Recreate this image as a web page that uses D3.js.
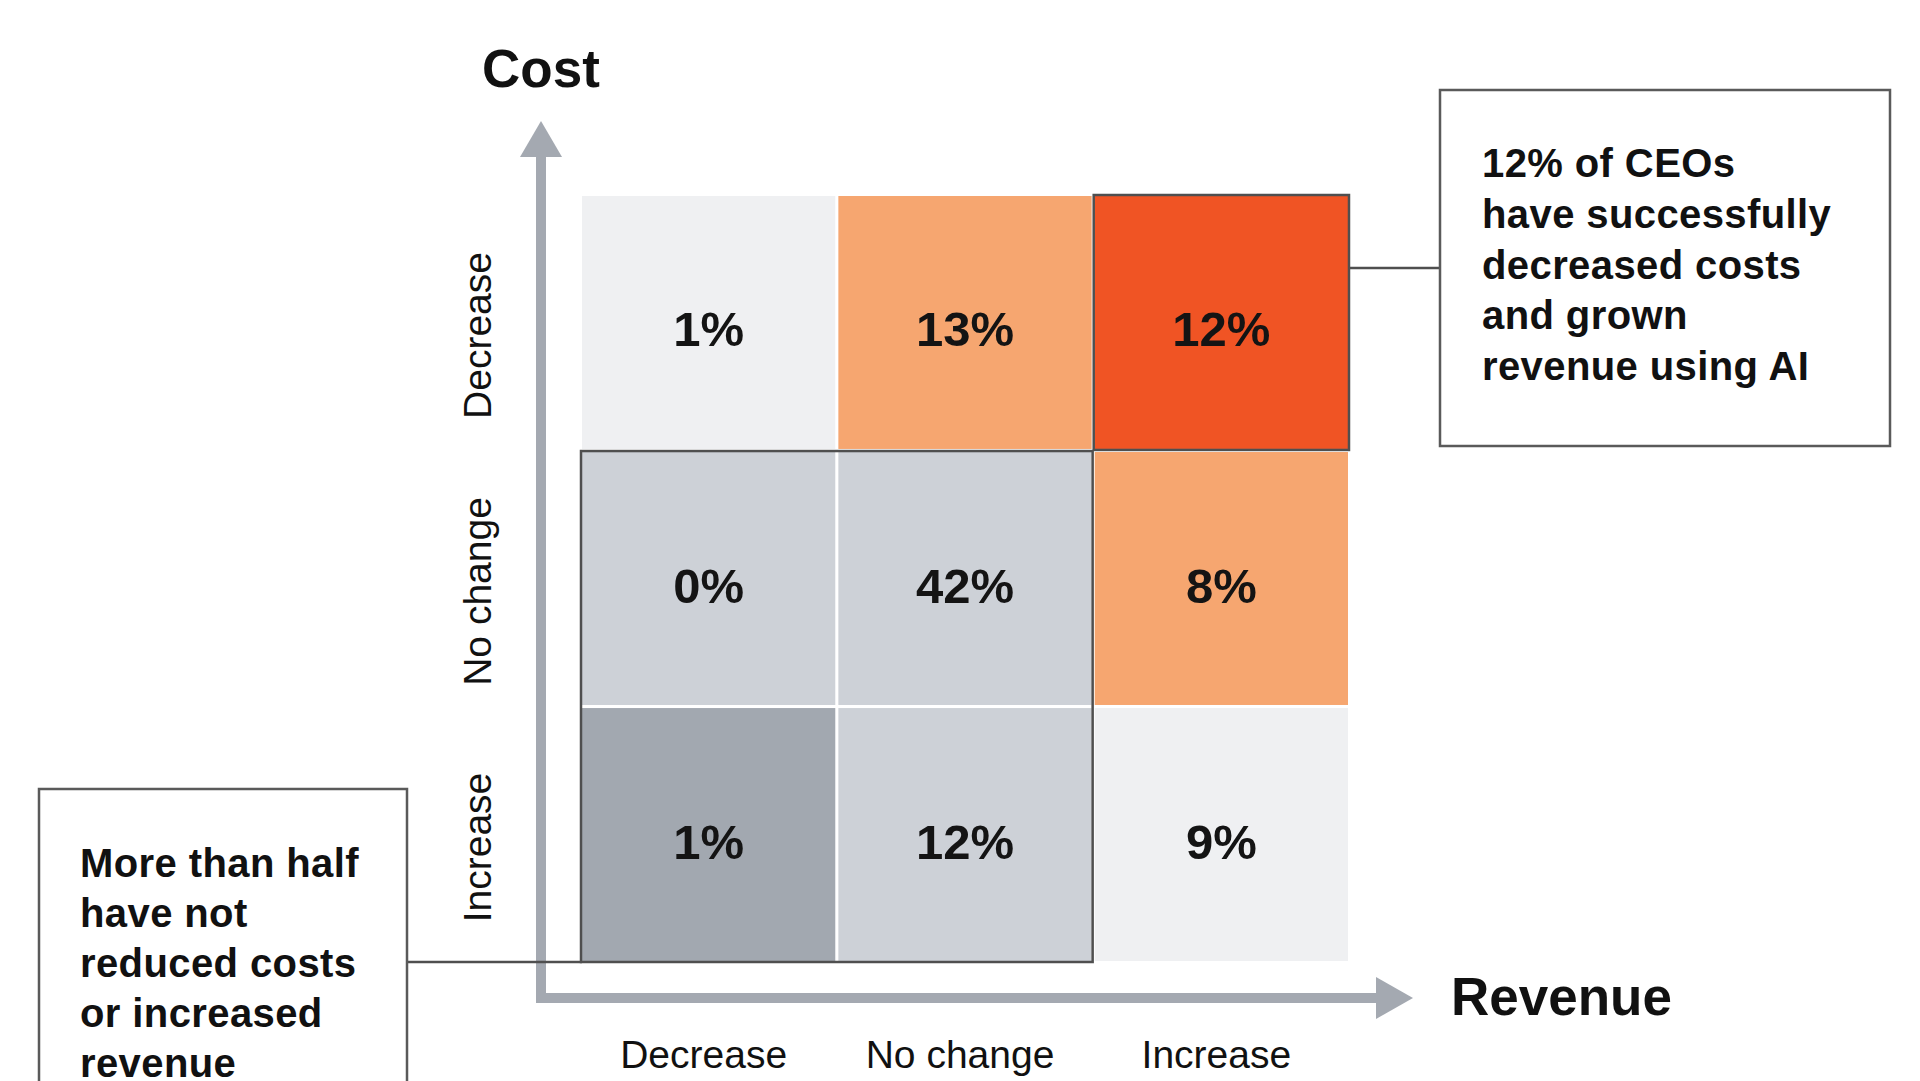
<!DOCTYPE html>
<html>
<head>
<meta charset="utf-8">
<script src="https://cdn.jsdelivr.net/npm/d3@7"></script>
<style>
  html, body { margin: 0; padding: 0; background: #fff; overflow: hidden; }
  svg { display: block; font-family: 'Liberation Sans', Arial, Helvetica, sans-serif; }
</style>
</head>
<body>
<svg id="chart" width="1920" height="1081"></svg>
<script>
// CEO survey matrix: change in cost (rows) against change in revenue (columns)

const revenueLevels = ['Decrease', 'No change', 'Increase'];
const costLevels = ['Decrease', 'No change', 'Increase'];

// one array per cost row, ordered like revenueLevels
const costDecrease = [1, 13, 12];
const costNoChange = [0, 42, 8];
const costIncrease = [1, 12, 9];

const calloutRight = ['12% of CEOs', 'have successfully', 'decreased costs', 'and grown', 'revenue using AI'];
const calloutLeft = ['More than half', 'have not', 'reduced costs', 'or increased', 'revenue'];

const rows = [costDecrease, costNoChange, costIncrease];
const cells = rows.flatMap((vals, ri) => vals.map((v, ci) => ({
    cost: costLevels[ri], revenue: revenueLevels[ci], value: v,
})));

// +1 = good outcome, -1 = bad outcome on each dimension
const costEffect = { 'Decrease': 1, 'No change': 0, 'Increase': -1 };
const revEffect = { 'Decrease': -1, 'No change': 0, 'Increase': 1 };
const groupOf = (d) => {
    const c = costEffect[d.cost], r = revEffect[d.revenue];
    if (c === 1 && r === 1) return 'both';
    if (c === -1 && r === -1) return 'worse';
    if (c * r === -1) return 'mixed';
    if (c + r === 1) return 'one';
    return 'none';
};
const fill = d3.scaleOrdinal()
    .domain(['both', 'one', 'mixed', 'none', 'worse'])
    .range(['#f05424', '#f6a670', '#eff0f2', '#cdd1d7', '#a2a8b0']);

const AXIS = '#a4a9b1';
const LINE = '#4f4f4f';

const svg = d3.select('#chart');

const x = d3.scaleBand().domain(revenueLevels).range([582, 1348]).paddingInner(0.012);
const y = d3.scaleBand().domain(costLevels).range([196, 961]).paddingInner(0.012);
const bw = x.bandwidth(), bh = y.bandwidth();

// ---- axes as arrows ----
const axisX = 541, axisY = 998;
const gArrows = svg.append('g');
gArrows.append('line')
    .attr('x1', axisX).attr('x2', axisX).attr('y1', 150).attr('y2', axisY + 5)
    .attr('stroke', AXIS).attr('stroke-width', 10);
gArrows.append('path')
    .attr('d', `M${axisX - 21},157 L${axisX},121 L${axisX + 21},157 Z`)
    .attr('fill', AXIS);
gArrows.append('line')
    .attr('x1', axisX - 5).attr('x2', 1382).attr('y1', axisY).attr('y2', axisY)
    .attr('stroke', AXIS).attr('stroke-width', 10);
gArrows.append('path')
    .attr('d', `M1376,${axisY - 21} L1413,${axisY} L1376,${axisY + 21} Z`)
    .attr('fill', AXIS);

svg.append('text')
    .attr('x', 482).attr('y', 87)
    .attr('font-size', 53).attr('font-weight', 700).attr('fill', '#111')
    .text('Cost');
svg.append('text')
    .attr('x', 1451).attr('y', 1015)
    .attr('font-size', 53).attr('font-weight', 700).attr('fill', '#111')
    .text('Revenue');

// ---- cells ----
const gCells = svg.append('g');
gCells.selectAll('rect').data(cells).join('rect')
    .attr('x', (d) => x(d.revenue))
    .attr('y', (d) => y(d.cost))
    .attr('width', bw)
    .attr('height', bh)
    .attr('fill', (d) => fill(groupOf(d)));

gCells.selectAll('text').data(cells).join('text')
    .attr('x', (d) => x(d.revenue) + bw / 2)
    .attr('y', (d) => y(d.cost) + bh / 2 + 7)
    .attr('text-anchor', 'middle')
    .attr('dominant-baseline', 'central')
    .attr('font-size', 49).attr('font-weight', 700).attr('fill', '#141414')
    .text((d) => `${d.value}%`);

// outlines: the winners cell and the block of CEOs with no gain
const gOut = svg.append('g').attr('fill', 'none').attr('stroke', LINE).attr('stroke-width', 2.5);
gOut.append('rect')
    .attr('x', x('Increase') - 1).attr('y', y('Decrease') - 1)
    .attr('width', bw + 2).attr('height', bh + 2);
gOut.append('rect')
    .attr('x', x('Decrease') - 1).attr('y', y('No change') - 1)
    .attr('width', x('No change') + bw - x('Decrease') + 2)
    .attr('height', y('Increase') + bh - y('No change') + 2);

// ---- category labels ----
const gCols = svg.append('g')
    .attr('transform', 'translate(-5,1040)')
    .call(d3.axisBottom(x).tickSize(0).tickPadding(0));
gCols.select('.domain').remove();
gCols.selectAll('text')
    .attr('font-family', null)
    .attr('font-size', 39).attr('fill', '#111')
    .attr('dy', '0.71em');

svg.append('g').selectAll('text').data(costLevels).join('text')
    .attr('transform', (d) => `translate(491,${y(d) + bh / 2 + 13}) rotate(-90)`)
    .attr('text-anchor', 'middle')
    .attr('font-size', 39).attr('fill', '#111')
    .text((d) => d);

// ---- callouts ----
function callout(box, lines, textX, firstBase, lineGap) {
    const g = svg.append('g');
    g.append('rect')
        .attr('x', box.x).attr('y', box.y).attr('width', box.w).attr('height', box.h)
        .attr('fill', '#fff').attr('stroke', '#5a5a5a').attr('stroke-width', 2.5);
    g.selectAll('text').data(lines).join('text')
        .attr('x', textX)
        .attr('y', (d, i) => firstBase + i * lineGap)
        .attr('font-size', 40).attr('font-weight', 700)
        .attr('letter-spacing', 0.4).attr('fill', '#111')
        .text((d) => d);
    return g;
}

const rightBox = { x: 1440, y: 90, w: 450, h: 356 };
svg.append('line')
    .attr('x1', x('Increase') + bw + 1).attr('x2', rightBox.x)
    .attr('y1', rightBox.y + rightBox.h / 2).attr('y2', rightBox.y + rightBox.h / 2)
    .attr('stroke', LINE).attr('stroke-width', 2.5);
callout(rightBox, calloutRight, 1482, 177, 50.8);

const leftBox = { x: 39, y: 789, w: 368, h: 360 };
const gridBottom = y('Increase') + bh + 1;
svg.append('line')
    .attr('x1', leftBox.x + leftBox.w).attr('x2', x('Decrease'))
    .attr('y1', gridBottom).attr('y2', gridBottom)
    .attr('stroke', LINE).attr('stroke-width', 2.5);
callout(leftBox, calloutLeft, 80, 877, 50);
</script>
</body>
</html>
